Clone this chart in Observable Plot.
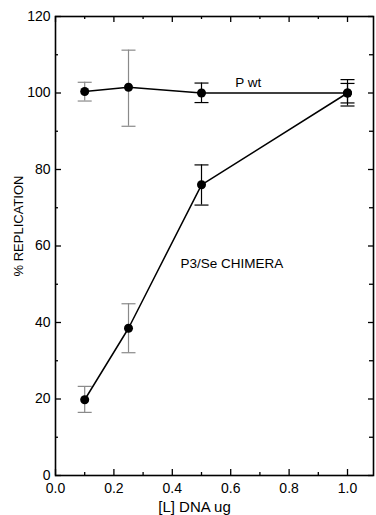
<!DOCTYPE html>
<html>
<head>
<meta charset="utf-8">
<script src="https://cdn.jsdelivr.net/npm/d3@7"></script>
<script src="https://cdn.jsdelivr.net/npm/@observablehq/plot@0.6"></script>
<style>
  html, body { margin: 0; padding: 0; background: #fff; }
  #chart svg { display: block; }
</style>
</head>
<body>
<div id="chart"></div>
<script>
// --- data ---
const dose = [0.1, 0.25, 0.5, 1.0];
const wtValues = [100.4, 101.5, 100.0, 100.0];
const wtLow = [97.9, 91.3, 97.5, 96.6];
const wtHigh = [102.8, 111.2, 102.6, 103.5];
const chimeraValues = [19.8, 38.5, 76.0, 100.0];
const chimeraLow = [16.5, 32.1, 70.7, 97.4];
const chimeraHigh = [23.3, 44.9, 81.2, 102.5];
const seriesNames = ["P wt", "P3/Se CHIMERA"];
const labelPos = [{x: 0.66, y: 102.8}, {x: 0.604, y: 55.4}];
const xAxisTitle = "[L] DNA ug";
const yAxisTitle = "% REPLICATION";
const xMajorTicks = [0, 0.2, 0.4, 0.6, 0.8, 1.0];
const xMinorTicks = [0.1, 0.3, 0.5, 0.7, 0.9];
const yMajorTicks = [0, 20, 40, 60, 80, 100, 120];
const yMinorTicks = [10, 30, 50, 70, 90, 110];

const rows = [];
dose.forEach((x, i) => rows.push({series: seriesNames[0], x, y: wtValues[i], lo: wtLow[i], hi: wtHigh[i]}));
dose.forEach((x, i) => rows.push({series: seriesNames[1], x, y: chimeraValues[i], lo: chimeraLow[i], hi: chimeraHigh[i]}));
const labels = seriesNames.map((s, i) => ({text: s, x: labelPos[i].x, y: labelPos[i].y}));

// horizontal cap symbol for error bars
const capSymbol = {
  draw(context, size) {
    const w = Math.sqrt(size / Math.PI);
    context.moveTo(-w, 0);
    context.lineTo(w, 0);
  }
};
const barColor = d => d.x < 0.4 ? "#8a8a8a" : "#000";

const W = 376, H = 515;
const mT = 16, mB = 40, mL = 55, mR = 3;
const innerH = H - mT - mB;
const innerW = W - mL - mR;

const chart = Plot.plot({
  width: W,
  height: H,
  marginTop: mT,
  marginBottom: mB,
  marginLeft: mL,
  marginRight: mR,
  style: {fontFamily: "Arial, 'Liberation Sans', sans-serif", fontSize: "14px", color: "#000", background: "#fff"},
  x: {domain: [0, 1.089]},
  y: {domain: [0, 120]},
  marks: [
    Plot.axisX(xMajorTicks, {tickSize: 0, tickPadding: 8, tickFormat: d3.format(".1f"), fontSize: 14, label: null}),
    Plot.axisY(yMajorTicks, {tickSize: 0, tickPadding: 5, fontSize: 14, label: null}),
    // axis titles
    Plot.text([xAxisTitle], {text: d => d, frameAnchor: "bottom", dx: -20, dy: 32, fontSize: 15, lineAnchor: "middle", fill: "#000"}),
    Plot.text([yAxisTitle], {text: d => d, frameAnchor: "left", rotate: -90, dx: -37, dy: -20, fontSize: 13, lineAnchor: "middle", textAnchor: "middle", fill: "#000"}),
    // inward ticks: bottom & top
    Plot.tickX(xMajorTicks, {x: d => d, insetTop: innerH - 6, stroke: "#000", strokeWidth: 1.3}),
    Plot.tickX(xMinorTicks, {x: d => d, insetTop: innerH - 3, stroke: "#000", strokeWidth: 1.3}),
    Plot.tickX(xMajorTicks, {x: d => d, insetBottom: innerH - 6, stroke: "#000", strokeWidth: 1.3}),
    Plot.tickX(xMinorTicks, {x: d => d, insetBottom: innerH - 3, stroke: "#000", strokeWidth: 1.3}),
    // inward ticks: left & right
    Plot.tickY(yMajorTicks, {y: d => d, insetRight: innerW - 6, stroke: "#000", strokeWidth: 1.3}),
    Plot.tickY(yMinorTicks, {y: d => d, insetRight: innerW - 3, stroke: "#000", strokeWidth: 1.3}),
    Plot.tickY(yMajorTicks, {y: d => d, insetLeft: innerW - 5, stroke: "#000", strokeWidth: 1.3}),
    Plot.tickY(yMinorTicks, {y: d => d, insetLeft: innerW - 4, stroke: "#000", strokeWidth: 1.3}),
    Plot.frame({stroke: "#000", strokeWidth: 1.6}),
    // error bars
    Plot.ruleX(rows, {x: "x", y1: "lo", y2: "hi", stroke: barColor, strokeWidth: 1.2}),
    Plot.dot(rows, {x: "x", y: "lo", symbol: capSymbol, r: 7, stroke: barColor, strokeWidth: 1.2, fill: "none"}),
    Plot.dot(rows, {x: "x", y: "hi", symbol: capSymbol, r: 7, stroke: barColor, strokeWidth: 1.2, fill: "none"}),
    // lines
    Plot.line(rows, {x: "x", y: "y", z: "series", stroke: "#000", strokeWidth: 1.5}),
    Plot.dot(rows, {x: "x", y: "y", r: 4.5, fill: "#000", stroke: "none"}),
    // series labels
    Plot.text(labels, {x: "x", y: "y", text: "text", fontSize: 13.5, textAnchor: "middle", lineAnchor: "middle", fill: "#000"})
  ]
});
document.getElementById("chart").appendChild(chart);
</script>
</body>
</html>
